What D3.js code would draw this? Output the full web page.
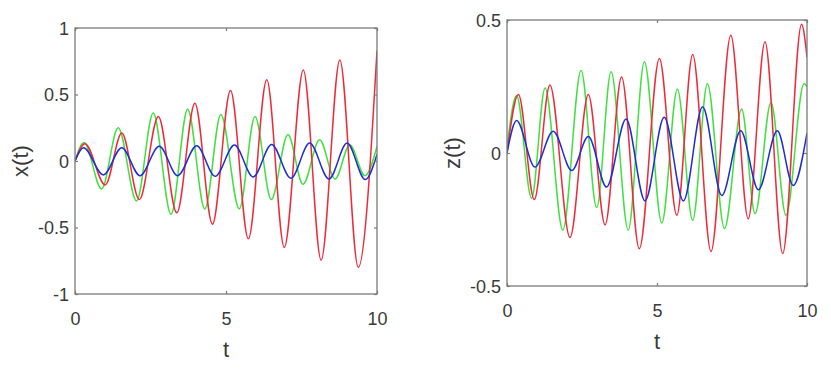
<!DOCTYPE html>
<html><head><meta charset="utf-8">
<script src="https://cdn.jsdelivr.net/npm/d3@7"></script>
<style>body{margin:0;background:#fff}svg{display:block}</style>
</head><body>
<svg id="c" width="831" height="370"></svg>
<script>
// Data (t, value) read at turning points of each curve
const xTicks = [0, 5, 10];
const leftYTicks = [-1, -0.5, 0, 0.5, 1];
const rightYTicks = [-0.5, 0, 0.5];
const leftLabel = "x(t)";
const rightLabel = "z(t)";
const xLabel = "t";

const xRed = [[0,0],[0.33,0.13],[1.0,-0.18],[1.55,0.21],[2.13,-0.29],[2.76,0.335],[3.37,-0.39],[3.97,0.435],[4.55,-0.475],[5.15,0.53],[5.74,-0.585],[6.35,0.61],[6.93,-0.65],[7.56,0.685],[8.15,-0.745],[8.77,0.76],[9.38,-0.80],[10,0.83]];
const xGreen = [[0,0],[0.3,0.14],[0.88,-0.21],[1.43,0.25],[2.04,-0.30],[2.59,0.36],[3.18,-0.40],[3.73,0.39],[4.30,-0.36],[4.83,0.35],[5.44,-0.36],[5.96,0.335],[6.5,-0.29],[7.05,0.20],[7.55,-0.175],[8.1,0.16],[8.61,-0.135],[9.1,0.12],[9.6,-0.11],[10,0.11]];
const xBlue = [[0,0],[0.28,0.10],[0.94,-0.105],[1.55,0.10],[2.15,-0.11],[2.79,0.11],[3.4,-0.11],[4.03,0.115],[4.64,-0.115],[5.28,0.12],[5.9,-0.12],[6.51,0.125],[7.15,-0.13],[7.77,0.135],[8.41,-0.135],[9.01,0.135],[9.61,-0.14],[10,0.05]];

const zRed = [[0,0],[0.38,0.22],[0.91,-0.175],[1.43,0.256],[2.1,-0.318],[2.71,0.22],[3.27,-0.27],[3.82,0.286],[4.41,-0.36],[5.08,0.355],[5.66,-0.234],[6.19,0.37],[6.8,-0.37],[7.46,0.443],[8.04,-0.247],[8.6,0.418],[9.19,-0.378],[9.82,0.484],[10,0.36]];
const zGreen = [[0,0.02],[0.32,0.215],[0.82,-0.17],[1.27,0.244],[1.86,-0.29],[2.47,0.31],[2.99,-0.205],[3.47,0.305],[4.04,-0.29],[4.58,0.343],[5.16,-0.263],[5.68,0.24],[6.19,-0.253],[6.68,0.26],[7.25,-0.284],[7.82,0.165],[8.27,-0.228],[8.8,0.19],[9.3,-0.234],[9.9,0.26],[10,0.25]];
const zBlue = [[0,0],[0.32,0.122],[0.93,-0.053],[1.54,0.082],[2.16,-0.066],[2.71,0.062],[3.32,-0.128],[3.97,0.128],[4.6,-0.18],[5.24,0.134],[5.88,-0.18],[6.52,0.174],[7.16,-0.16],[7.79,0.084],[8.38,-0.138],[9.01,0.084],[9.54,-0.122],[10,0.075]];

const colors = {red: "#ee2a3a", green: "#3fe03f", blue: "#1f2fd0"};

const svg = d3.select("#c");
const FONT = "Liberation Sans, Arial, sans-serif";

function panel(opts) {
  const {x0, x1, y0, y1, yDomain, yTicks, series, label, labelX, tLabelY} = opts;
  const x = d3.scaleLinear().domain([0, 10]).range([x0, x1]);
  const y = d3.scaleLinear().domain(yDomain).range([y1, y0]);
  const g = svg.append("g");
  const line = d3.line().x(d => x(d[0])).y(d => y(d[1])).curve(d3.curveMonotoneX);
  g.append("defs").append("clipPath").attr("id", "clip" + x0)
    .append("rect").attr("x", x0).attr("y", y0).attr("width", x1 - x0).attr("height", y1 - y0);
  const lines = g.append("g").attr("clip-path", `url(#clip${x0})`);
  series.forEach(s => {
    lines.append("path").attr("d", line(s.data)).attr("fill", "none")
      .attr("stroke", colors[s.color]).attr("stroke-width", 1.5);
  });
  g.append("rect").attr("x", x0).attr("y", y0).attr("width", x1 - x0).attr("height", y1 - y0)
    .attr("fill", "none").attr("stroke", "#7a7a7a").attr("stroke-width", 1.3);
  const tk = 3;
  const fmt = d => String(d);
  const axB = d3.axisBottom(x).tickValues(xTicks).tickSize(-tk).tickSizeOuter(0).tickFormat(fmt);
  const axT = d3.axisTop(x).tickValues(xTicks).tickSize(-tk).tickSizeOuter(0).tickFormat("");
  const axL = d3.axisLeft(y).tickValues(yTicks).tickSize(-tk).tickSizeOuter(0).tickFormat(fmt);
  const axR = d3.axisRight(y).tickValues(yTicks).tickSize(-tk).tickSizeOuter(0).tickFormat("");
  const style = sel => {
    sel.select(".domain").remove();
    sel.selectAll(".tick line").attr("stroke", "#7a7a7a").attr("stroke-width", 1.2);
    sel.selectAll(".tick text").attr("fill", "#3a3a3a").attr("font-family", FONT).attr("font-size", 18);
  };
  g.append("g").attr("transform", `translate(0,${y1})`).call(axB).call(style)
    .selectAll(".tick text").attr("y", 0).attr("dy", 0).attr("transform", "translate(0,31)");
  g.append("g").attr("transform", `translate(0,${y0})`).call(axT).call(style);
  g.append("g").attr("transform", `translate(${x0},0)`).call(axL).call(style)
    .selectAll(".tick text").attr("x", -6).attr("dy", "0.36em");
  g.append("g").attr("transform", `translate(${x1},0)`).call(axR).call(style);
  g.append("text").attr("x", (x0 + x1) / 2).attr("y", tLabelY).attr("text-anchor", "middle")
    .attr("font-family", FONT).attr("font-size", 22).attr("fill", "#3a3a3a").text(xLabel);
  g.append("text").attr("transform", `translate(${labelX},${(y0 + y1) / 2}) rotate(-90)`).attr("text-anchor", "middle")
    .attr("dy", "0.35em")
    .attr("font-family", FONT).attr("font-size", 22).attr("fill", "#3a3a3a").text(label);
}

panel({x0: 75, x1: 377, y0: 28, y1: 294, yDomain: [-1, 1], yTicks: leftYTicks,
  series: [{data: xGreen, color: "green"}, {data: xRed, color: "red"}, {data: xBlue, color: "blue"}],
  label: leftLabel, labelX: 20, tLabelY: 357});
panel({x0: 507, x1: 807, y0: 20, y1: 286, yDomain: [-0.5, 0.5], yTicks: rightYTicks,
  series: [{data: zGreen, color: "green"}, {data: zRed, color: "red"}, {data: zBlue, color: "blue"}],
  label: rightLabel, labelX: 452, tLabelY: 349});
</script>
</body></html>
